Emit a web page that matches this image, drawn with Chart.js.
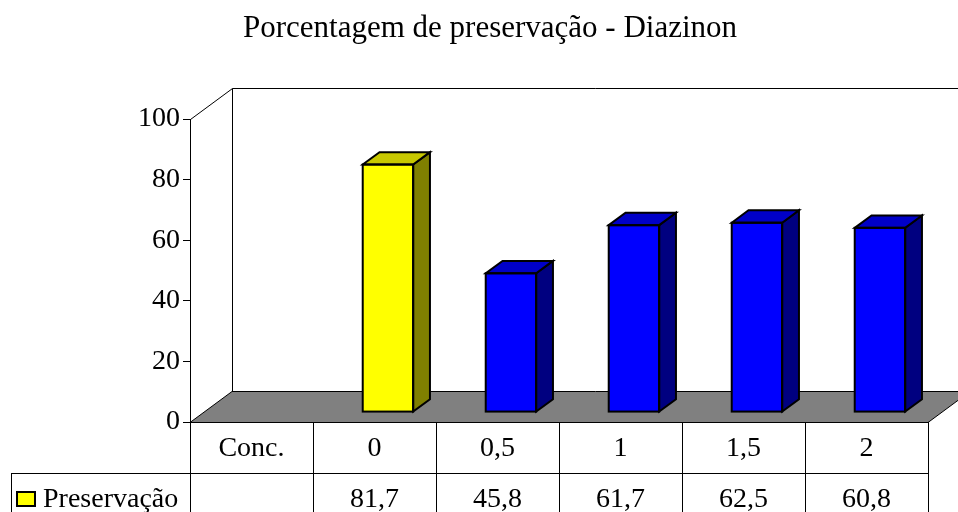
<!DOCTYPE html>
<html>
<head>
<meta charset="utf-8">
<script src="https://cdn.jsdelivr.net/npm/chart.js@4.4.1/dist/chart.umd.min.js"></script>
<style>
    body { margin: 0; background: #fff; }
</style>
</head>
<body>
<canvas id="chartPreservacao" width="958" height="512"></canvas>
<script>
const categorias = ["Conc.", "0", "0,5", "1", "1,5", "2"];
const preservacao = [null, 81.7, 45.8, 61.7, 62.5, 60.8];
const nomeSerie = "Preservação";
const titulo = "Porcentagem de preservação - Diazinon";

const fonte = "'Liberation Serif', 'Times New Roman', serif";

// profundidade 3D (parede do fundo e das barras)
const profX = 42;
const profY = 31;
const frenteBarra = 0.32;
const fundoBarra = 0.72;

const corFrente = (i) => (i === 1 ? "#FFFF00" : "#0000FF");
const corLado = (i) => (i === 1 ? "#808000" : "#000080");
const corTopo = (i) => (i === 1 ? "#C8C800" : "#0000C8");

const formatar = (v) => (v === null ? "" : v.toFixed(1).replace(".", ","));

const efeito3D = {
    id: "efeito3D",
    beforeDatasetsDraw(chart) {
        const { ctx, chartArea, scales } = chart;
        const zeroY = scales.y.getPixelForValue(0);
        const topoY = scales.y.getPixelForValue(100);
        ctx.save();
        ctx.strokeStyle = "#000";
        ctx.lineWidth = 1;
        // parede do fundo
        ctx.beginPath();
        ctx.moveTo(chartArea.left + 0.5, topoY + 0.5);
        ctx.lineTo(chartArea.left + profX + 0.5, topoY - profY + 0.5);
        ctx.lineTo(chartArea.right + profX + 0.5, topoY - profY + 0.5);
        ctx.moveTo(chartArea.left + profX + 0.5, topoY - profY + 0.5);
        ctx.lineTo(chartArea.left + profX + 0.5, zeroY - profY + 0.5);
        ctx.stroke();
        // piso
        ctx.beginPath();
        ctx.moveTo(chartArea.left, zeroY + 0.5);
        ctx.lineTo(chartArea.left + profX, zeroY - profY + 0.5);
        ctx.lineTo(chartArea.right + profX, zeroY - profY + 0.5);
        ctx.lineTo(chartArea.right, zeroY + 0.5);
        ctx.closePath();
        ctx.fillStyle = "#808080";
        ctx.fill();
        ctx.stroke();
        ctx.restore();

        ctx.save();
        ctx.translate(profX * frenteBarra, -profY * frenteBarra);
    },
    afterDatasetsDraw(chart) {
        const { ctx } = chart;
        ctx.restore();
        const meta = chart.getDatasetMeta(0);
        const ox = profX * frenteBarra;
        const oy = -profY * frenteBarra;
        const dx = profX * (fundoBarra - frenteBarra);
        const dy = -profY * (fundoBarra - frenteBarra);
        ctx.save();
        ctx.lineWidth = 2;
        ctx.strokeStyle = "#000";
        ctx.lineJoin = "miter";
        meta.data.forEach((bar, i) => {
            if (preservacao[i] === null) return;
            const esq = bar.x - bar.width / 2 + ox;
            const dir = bar.x + bar.width / 2 + ox;
            const topo = bar.y + oy;
            const base = bar.base + oy;
            // lateral
            ctx.beginPath();
            ctx.moveTo(dir, base);
            ctx.lineTo(dir, topo);
            ctx.lineTo(dir + dx, topo + dy);
            ctx.lineTo(dir + dx, base + dy);
            ctx.closePath();
            ctx.fillStyle = corLado(i);
            ctx.fill();
            ctx.stroke();
            // topo
            ctx.beginPath();
            ctx.moveTo(esq, topo);
            ctx.lineTo(esq + dx, topo + dy);
            ctx.lineTo(dir + dx, topo + dy);
            ctx.lineTo(dir, topo);
            ctx.closePath();
            ctx.fillStyle = corTopo(i);
            ctx.fill();
            ctx.stroke();
            // frente (contorno)
            ctx.strokeRect(esq, topo, bar.width, base - topo);
        });
        ctx.restore();
    },
    afterDraw(chart) {
        const { ctx, chartArea, scales } = chart;
        const zeroY = scales.y.getPixelForValue(0);
        const larg = scales.x.width / categorias.length;
        const linha = 51;
        const fundo = chart.height + 20;
        const legEsq = 11.5;
        ctx.save();
        // título
        ctx.fillStyle = "#000";
        ctx.font = "31px " + fonte;
        ctx.textAlign = "center";
        ctx.textBaseline = "alphabetic";
        ctx.fillText(titulo, 490, 36.5);

        ctx.strokeStyle = "#000";
        ctx.lineWidth = 1;
        ctx.beginPath();
        for (let k = 0; k <= categorias.length; k++) {
            const x = Math.round(chartArea.left + k * larg) + 0.5;
            ctx.moveTo(x, zeroY);
            ctx.lineTo(x, fundo);
        }
        ctx.moveTo(legEsq, zeroY + linha + 0.5);
        ctx.lineTo(chartArea.right + 0.5, zeroY + linha + 0.5);
        ctx.moveTo(legEsq, zeroY + linha);
        ctx.lineTo(legEsq, fundo);
        ctx.stroke();

        ctx.font = "28px " + fonte;
        ctx.textBaseline = "middle";
        categorias.forEach((c, i) => {
            const x = scales.x.getPixelForValue(i);
            ctx.fillText(c, x, zeroY + linha / 2 + 1);
            ctx.fillText(formatar(preservacao[i]), x, zeroY + linha * 1.5 + 1);
        });
        // legenda
        ctx.fillStyle = "#FFFF00";
        ctx.fillRect(17, 492, 18, 14);
        ctx.lineWidth = 2;
        ctx.strokeRect(17, 492, 18, 14);
        ctx.fillStyle = "#000";
        ctx.textAlign = "left";
        ctx.fillText(nomeSerie, 43, zeroY + linha * 1.5 + 1);
        ctx.restore();
    },
};

new Chart(document.getElementById("chartPreservacao"), {
    type: "bar",
    data: {
        labels: categorias,
        datasets: [
            {
                label: nomeSerie,
                data: preservacao,
                backgroundColor: (c) => corFrente(c.dataIndex),
                borderWidth: 0,
                barPercentage: 0.41,
                categoryPercentage: 1,
                clip: false,
            },
        ],
    },
    options: {
        responsive: false,
        animation: false,
        layout: {
            padding: { left: 0, right: 30, top: 119, bottom: 90 },
        },
        plugins: {
            legend: { display: false },
            tooltip: { enabled: false },
            title: { display: false },
        },
        scales: {
            x: { display: false },
            y: {
                min: 0,
                max: 100,
                afterFit: (scale) => {
                    scale.width = 190;
                },
                ticks: {
                    stepSize: 20,
                    color: "#000",
                    padding: 3,
                    font: { family: fonte, size: 28 },
                },
                grid: {
                    drawOnChartArea: false,
                    drawTicks: true,
                    tickLength: 7,
                    color: "#000",
                },
                border: { display: true, color: "#000" },
            },
        },
    },
    plugins: [efeito3D],
});
</script>
</body>
</html>
